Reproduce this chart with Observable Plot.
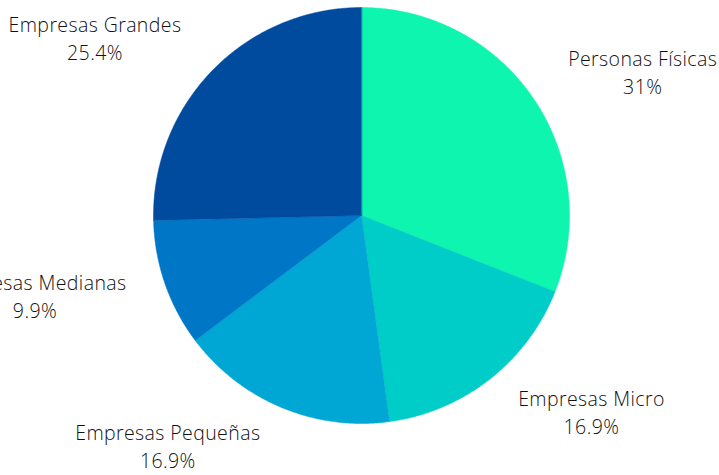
<!DOCTYPE html>
<html><head><meta charset="utf-8">
<script src="https://cdn.jsdelivr.net/npm/d3@7"></script>
<script src="https://cdn.jsdelivr.net/npm/@observablehq/plot@0.6"></script>
<style>body{margin:0;background:#fff}</style>
</head><body><div id="chart"></div>
<script>
const categories = ["Personas Físicas", "Empresas Micro", "Empresas Pequeñas", "Empresas Medianas", "Empresas Grandes"];
const shares = [31, 16.9, 16.9, 9.9, 25.4];
const pctLabels = ["31%", "16.9%", "16.9%", "9.9%", "25.4%"];
const colors = ["#0ef5af", "#00cdc8", "#00a6d4", "#0077c6", "#004b9e"];

const W = 719, H = 475;
const FONT_SIZE = 19.5, FONT_FAMILY = "Open Sans", FONT_WEIGHT = 300, LETTER = 0.4;
const total = d3.sum(shares);
const ctx = document.createElement("canvas").getContext("2d");
ctx.font = `${FONT_WEIGHT} ${FONT_SIZE}px "${FONT_FAMILY}"`;
const measure = t => ctx.measureText(t).width + LETTER * t.length;
const PX = 208; // pie radius in pixels (unit circle is fitted to 416px box)

let acc = 0;
const slices = categories.map((name, i) => {
  const a0 = acc / total * 2 * Math.PI; acc += shares[i];
  const a1 = acc / total * 2 * Math.PI;
  const n = Math.max(2, Math.ceil((a1 - a0) / (Math.PI / 360)));
  const ring = [[0, 0]];
  for (let k = 0; k <= n; k++) { const a = a0 + (a1 - a0) * k / n; ring.push([Math.sin(a), Math.cos(a)]); }
  ring.push([0, 0]);
  return {name, pct: pctLabels[i], mid: (a0 + a1) / 2, ring};
});

const features = slices.map(s => ({type: "Feature", properties: {name: s.name}, geometry: {type: "Polygon", coordinates: [s.ring]}}));

const R = 1.15, GAP = 9, DYK = 13, LINE = 14;
const labels = slices.map(s => {
  const sx = Math.sin(s.mid), cy = Math.cos(s.mid);
  const hw = Math.max(measure(s.name), measure(s.pct)) / 2;
  const sign = sx >= 0 ? 1 : -1;
  const x = R * sx + sign * (hw + GAP) / PX;
  const y = R * cy + cy * DYK / PX;
  return {name: s.name, pct: s.pct, x, yName: y + LINE / PX, yPct: y - LINE / PX};
});

const chart = Plot.plot({
  width: W, height: H,
  marginLeft: 153, marginRight: 150, marginTop: 7, marginBottom: 52,
  projection: {type: "reflect-y", domain: {type: "MultiPoint", coordinates: [[-1, 0], [1, 0], [0, -1], [0, 1]]}, clip: false},
  color: {domain: categories, range: colors},
  style: {fontFamily: FONT_FAMILY, background: "#fff", overflow: "visible", letterSpacing: `${LETTER}px`},
  marks: [
    Plot.geo(features, {fill: d => d.properties.name, stroke: d => d.properties.name, strokeWidth: 0.5}),
    Plot.text(labels, {x: "x", y: "yName", text: "name", fontSize: FONT_SIZE, fontWeight: FONT_WEIGHT, fill: "#111", textAnchor: "middle"}),
    Plot.text(labels, {x: "x", y: "yPct", text: "pct", fontSize: FONT_SIZE, fontWeight: FONT_WEIGHT, fill: "#111", textAnchor: "middle"})
  ]
});
document.getElementById("chart").appendChild(chart);
</script>
</body></html>
